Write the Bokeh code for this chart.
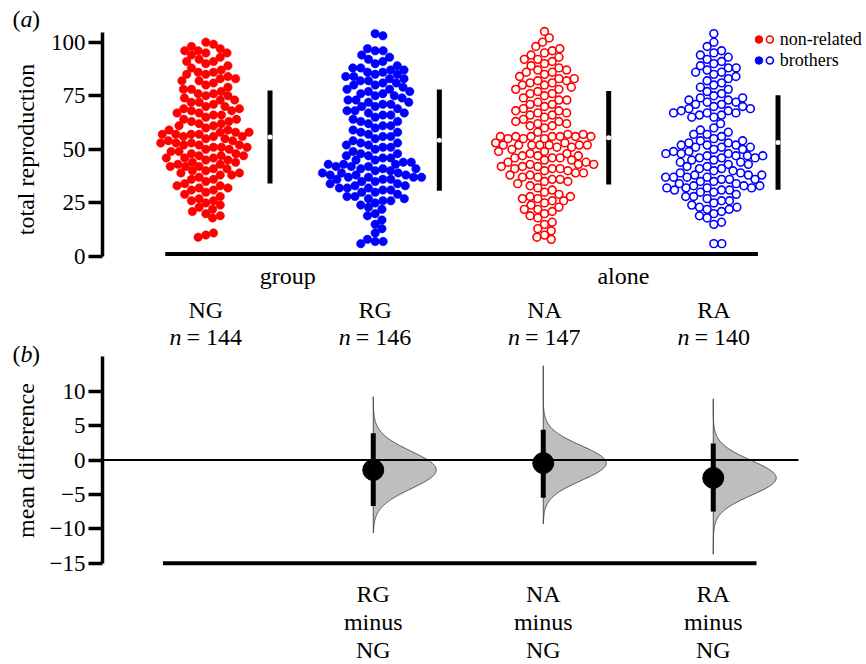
import math
import numpy as np
from bokeh.plotting import figure
from bokeh.models import Range1d, LinearAxis, FixedTicker
from bokeh.layouts import column, row
from bokeh.core.properties import value
from bokeh.embed import file_html
from bokeh.resources import INLINE

# ---------------- data ----------------
categories = ["NG", "RG", "NA", "RA"]
relatedness = ["non-related", "brothers", "non-related", "brothers"]
condition_labels = ["group", "alone"]

NG = [100, 99,
      95, 96, 97, 98, 96, 95,
      90, 91, 92, 93, 94, 91,
      85, 86, 86, 87, 88, 89, 85,
      80, 81, 82, 83, 84, 82, 83,
      75, 76, 76, 77, 78, 79, 78, 75,
      70, 71, 72, 72, 73, 74, 70, 73,
      65, 66, 67, 68, 69, 68, 66, 67, 69,
      60, 61, 62, 63, 64, 62, 63, 61, 64,
      55, 56, 57, 57, 58, 59, 56, 58, 57, 55, 59, 56, 58, 57,
      50, 51, 52, 53, 54, 52, 51, 53, 50, 54, 52, 51, 53,
      45, 46, 47, 48, 49, 47, 46, 48, 45, 49, 47, 46,
      40, 41, 42, 43, 44, 42, 41, 43, 40, 44, 42,
      35, 36, 37, 38, 39, 36, 38, 39,
      30, 31, 32, 33, 34, 31, 32, 33,
      25, 26, 27, 28, 29, 26,
      20, 22, 23, 24, 21,
      18, 19,
      10, 11, 9]

RG = [104, 103,
      96, 96, 97,
      90, 91, 92, 93, 94,
      85, 86, 86, 87, 88, 88, 89, 87, 85,
      80, 81, 82, 82, 83, 84, 81, 83, 80, 84,
      75, 76, 77, 78, 79, 76, 78, 77, 75,
      70, 71, 72, 73, 74, 71, 73, 72, 70,
      65, 66, 67, 68, 69, 66, 68, 67,
      60, 61, 62, 63, 64, 61, 63,
      55, 56, 57, 58, 59, 56, 58,
      50, 51, 52, 53, 54, 51, 53, 52,
      45, 46, 47, 48, 49, 46, 48, 47, 45,
      40, 41, 42, 43, 44, 41, 42, 43, 40, 44, 42, 41, 43,
      35, 36, 37, 38, 39, 36, 37, 38, 35, 39, 37, 36, 38, 37, 39,
      30, 31, 32, 33, 34, 31, 32, 33, 30, 34, 32,
      25, 26, 27, 28, 29, 26, 28, 27,
      20, 22, 23, 24,
      15, 17, 19,
      11, 13,
      7, 7, 8, 6]

NA = [105, 102, 100,
      95, 96, 98, 97,
      90, 91, 92, 93, 94, 92,
      85, 86, 87, 88, 89, 86, 87,
      80, 81, 82, 83, 84, 81, 82, 83, 80,
      75, 76, 77, 78, 79, 76, 78,
      70, 71, 72, 73, 74, 71, 73,
      65, 66, 67, 68, 69, 66, 67, 68,
      60, 61, 62, 63, 64, 61, 62, 63,
      58,
      55, 56, 56, 56, 55, 57, 56, 56, 55, 57, 56, 56,
      52, 52, 51, 52, 53, 52, 51, 52, 52, 53, 50, 52,
      45, 46, 47, 48, 49, 46, 47, 48, 45, 49, 47, 46,
      40, 41, 42, 43, 44, 41, 42, 43, 40, 44, 42, 41, 43,
      35, 36, 37, 38, 39, 36, 37, 38, 35, 39,
      30, 31, 32, 33, 34,
      25, 26, 27, 28, 29, 26, 27, 28,
      20, 21, 22, 23, 24, 22,
      15, 16, 18, 19,
      10, 12, 13,
      8, 9]

RA = [104, 100,
      95, 96, 98,
      90, 91, 92, 93, 94,
      85, 86, 87, 88, 89, 86, 88,
      80, 81, 82, 83, 84,
      75, 76, 77, 78, 79,
      70, 71, 72, 73, 74, 71, 72, 73, 70, 74,
      65, 66, 67, 68, 69, 66, 67, 68, 65, 69, 67,
      60, 62,
      55, 56, 57, 58, 59, 57,
      50, 51, 52, 53, 54, 51, 52, 53, 50, 54, 52, 51,
      45, 46, 47, 48, 49, 46, 47, 48, 45, 49, 47, 46, 48, 47,
      40, 41, 42, 43, 44, 41, 42, 43, 40, 44,
      35, 36, 37, 38, 39, 36, 37, 38, 35, 39, 37, 36, 38, 37,
      30, 31, 32, 33, 34, 31, 32, 33, 30, 34, 32, 31, 33, 32,
      25, 26, 27, 28, 29, 26, 28,
      20, 21, 22, 23, 24, 22, 23,
      15, 16, 18, 19,
      6, 6]

groups = [NG, RG, NA, RA]

# summary bars (mean +/- SD) as drawn
group_mean = [55.8, 54.3, 55.4, 53.2]
group_sd = [21.7, 23.6, 21.8, 22.0]

# mean differences vs NG, 95% CI and extent of bootstrap distribution
diff_labels = ["RG", "NA", "RA"]
diff_mean = [-1.45, -0.45, -2.6]
ci_low = [-6.7, -5.5, -7.5]
ci_high = [3.9, 4.4, 2.4]
dist_min = [-10.6, -9.3, -13.7]
dist_max = [9.2, 13.7, 8.9]

# ---------------- layout helpers (page pixel -> data) ----------------
X0, DX = 202.75, 170.0
S1, Z1 = 2.143, 256.0
S2, Z2 = 6.88, 459.5
def fx(px): return (px - X0) / DX
def fy1(py): return (Z1 - py) / S1
def fy2(py): return (Z2 - py) / S2

TB = 6.0          # text baseline correction (px)
FONT = "Liberation Serif"
RED, BLUE = "#FF0000", "#0000FF"
colors = [RED, BLUE, RED, BLUE]
filled = [True, True, False, False]

TOTAL_W, TOTAL_H = 864, 662
LW = 45                  # width of the title strip on the left
H1 = 350                 # height of panel (a)
H2 = TOTAL_H - H1

def beeswarm(vals, d_px, sy):
    ys = np.asarray(vals, float) * sy
    px_l, py_l = [], []
    out = np.zeros(len(ys))
    for k, y in enumerate(ys):
        cands = [0.0]
        for a, b in zip(px_l, py_l):
            dy = y - b
            if abs(dy) < d_px:
                dx = math.sqrt(d_px * d_px - dy * dy)
                cands += [a + dx, a - dx]
        cands.sort(key=abs)
        best = 0.0
        for c in cands:
            if all((c - a) ** 2 + (y - b) ** 2 >= d_px * d_px - 1e-6 for a, b in zip(px_l, py_l)):
                best = c
                break
        px_l.append(best); py_l.append(y); out[k] = best
    return out / DX

def style(p):
    p.outline_line_color = None
    p.background_fill_color = "white"
    p.border_fill_color = "white"
    p.grid.visible = False

def yaxis(bounds, ticks, overrides=None):
    ax = LinearAxis(bounds=bounds, ticker=FixedTicker(ticks=ticks),
                    axis_line_width=3.5, axis_line_color="black",
                    major_tick_line_width=3.5, major_tick_line_color="black",
                    major_tick_out=14, major_tick_in=0,
                    minor_tick_out=0, minor_tick_in=0,
                    major_label_standoff=3,
                    major_label_text_font=FONT, major_label_text_font_size="23px",
                    major_label_text_color="black")
    if overrides:
        ax.major_label_overrides = overrides
    return ax

def txt(p, xs, ys, texts, size="24px", align="center", style_="normal", angle=0.0, baseline="alphabetic"):
    p.text(xs, ys, text=texts, text_font=value(FONT), text_font_size=size,
           text_font_style=style_, text_align=align, text_baseline=baseline,
           text_color="black", angle=angle)

# ---------------- left strip: panel letters and axis titles ----------------
pl = figure(width=LW, height=TOTAL_H, output_backend="svg", toolbar_location=None, title=None,
            x_range=Range1d(0, LW), y_range=Range1d(0, TOTAL_H),
            min_border_left=0, min_border_right=0, min_border_top=0, min_border_bottom=0,
            x_axis_location=None, y_axis_location=None)
style(pl)
def ly(py): return TOTAL_H - py
txt(pl, [25.5], [ly(149)], ["total reproduction"], angle=math.pi / 2, baseline="middle")
txt(pl, [25.5], [ly(460)], ["mean difference"], angle=math.pi / 2, baseline="middle")
for py, letter in [(24, "a"), (359, "b")]:
    txt(pl, [12], [ly(py - TB)], ["("], align="left")
    txt(pl, [20], [ly(py - TB)], [letter], align="left", style_="italic")
    txt(pl, [31.5], [ly(py - TB)], [")"], align="left")

# ---------------- panel (a) ----------------
p1 = figure(width=TOTAL_W - LW, height=H1, output_backend="svg", toolbar_location=None, title=None,
            x_range=Range1d(fx(99), fx(TOTAL_W)), y_range=Range1d(fy1(H1), fy1(0)),
            min_border_left=99 - LW, min_border_right=0, min_border_top=0, min_border_bottom=0,
            x_axis_location=None, y_axis_location=None)
style(p1)
p1.add_layout(yaxis((0, 104.5), [0, 25, 50, 75, 100]), "left")

for i, vals in enumerate(groups):
    xs = i + beeswarm(vals, 8.0, S1)
    if filled[i]:
        p1.scatter(xs, vals, size=8.5, fill_color=colors[i], line_color=colors[i], line_width=0.5)
    else:
        p1.scatter(xs, vals, size=7.8, fill_color=None, line_color=colors[i], line_width=1.6)

bar_x = [i + 0.379 for i in range(len(categories))]
p1.segment(x0=bar_x, y0=[m - s for m, s in zip(group_mean, group_sd)],
           x1=bar_x, y1=[m + s for m, s in zip(group_mean, group_sd)],
           line_width=5, line_color="black")
p1.scatter(bar_x, group_mean, size=5, fill_color="white", line_color=None)

p1.segment(x0=[fx(162)], y0=[fy1(253.5)], x1=[fx(757)], y1=[fy1(253.5)], line_width=4, line_color="black")

# legend
p1.scatter([fx(758)], [fy1(39)], size=7.5, fill_color=RED, line_color=RED)
p1.scatter([fx(769)], [fy1(39)], size=7, fill_color=None, line_color=RED, line_width=1.6)
p1.scatter([fx(758)], [fy1(60)], size=7.5, fill_color=BLUE, line_color=BLUE)
p1.scatter([fx(769)], [fy1(60)], size=7, fill_color=None, line_color=BLUE, line_width=1.6)
txt(p1, [fx(779), fx(779)], [fy1(44.5 - TB), fy1(65.5 - TB)], ["non-related", "brothers"],
    size="18px", align="left")

# category labels
cx = list(range(len(categories)))
txt(p1, [0.484, 2.466], [fy1(281 - TB)] * 2, condition_labels)
txt(p1, cx, [fy1(315 - TB)] * 4, categories)
txt(p1, [c - 24.5 / DX for c in cx], [fy1(342 - TB)] * 4, ["n"] * 4, align="right", style_="italic")
txt(p1, [c - 19.5 / DX for c in cx], [fy1(342 - TB)] * 4, ["= %d" % len(g) for g in groups], align="left")

# ---------------- panel (b) ----------------
p2 = figure(width=TOTAL_W - LW, height=H2, output_backend="svg", toolbar_location=None, title=None,
            x_range=Range1d(fx(102), fx(TOTAL_W)), y_range=Range1d(fy2(TOTAL_H), fy2(H1)),
            min_border_left=102 - LW, min_border_right=0, min_border_top=0, min_border_bottom=0,
            x_axis_location=None, y_axis_location=None)
style(p2)
p2.add_layout(yaxis((-15, 15), [-15, -10, -5, 0, 5, 10],
                    {-15: "\u221215", -10: "\u221210", -5: "\u22125"}), "left")

W = 63.0 / DX
vx, vy = [], []
for k in range(len(diff_mean)):
    sd = (ci_high[k] - ci_low[k]) / 3.92
    ys = np.linspace(dist_min[k], dist_max[k], 300)
    dens = np.exp(-0.5 * ((ys - diff_mean[k]) / sd) ** 2)
    xk = k + 1
    vx.append(np.concatenate([[xk], xk + W * dens, [xk]]))
    vy.append(np.concatenate([[dist_min[k]], ys, [dist_max[k]]]))
p2.patches(vx, vy, fill_color="#BEBEBE", line_color="#333333", line_width=0.8)

p2.segment(x0=[fx(102)], y0=[0], x1=[fx(798)], y1=[0], line_width=2.2, line_color="black")

dx_pos = [k + 1 for k in range(len(diff_mean))]
p2.segment(x0=dx_pos, y0=ci_low, x1=dx_pos, y1=ci_high, line_width=5, line_color="black")
p2.scatter(dx_pos, diff_mean, size=21, fill_color="black", line_color="black")

p2.segment(x0=[fx(162.5)], y0=[-15], x1=[fx(756)], y1=[-15], line_width=4, line_color="black")

txt(p2, dx_pos, [fy2(599 - TB)] * 3, diff_labels)
txt(p2, dx_pos, [fy2(627.5 - TB)] * 3, ["minus"] * 3)
txt(p2, dx_pos, [fy2(655 - TB)] * 3, [categories[0]] * 3)

layout = row(pl, column(p1, p2))
open("out.html", "w").write(file_html(layout, INLINE))
